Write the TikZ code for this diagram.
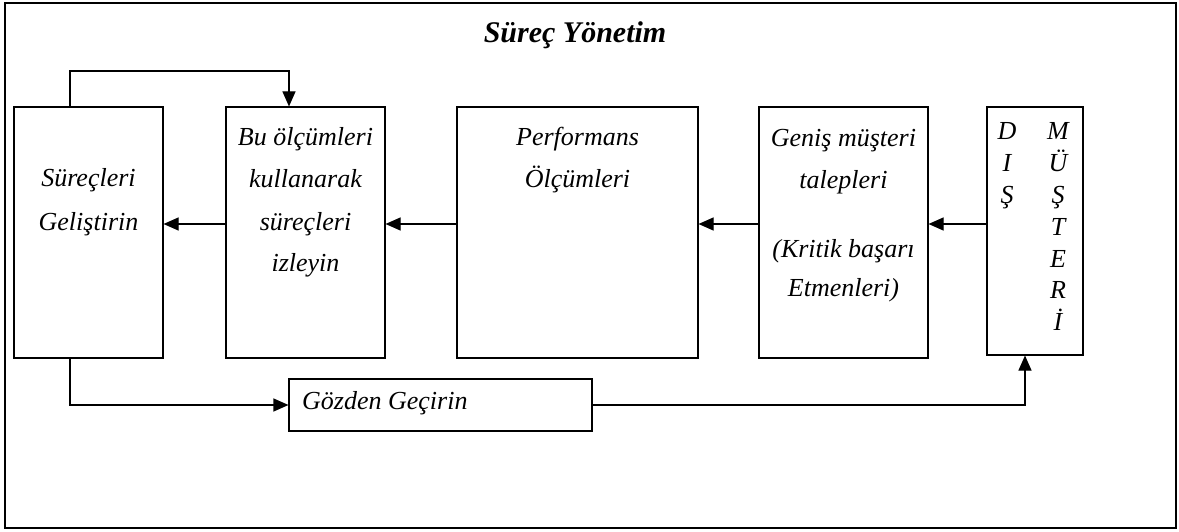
\documentclass[tikz,border=0pt]{standalone}
\usepackage{fontspec}
\setmainfont{Liberation Serif}
\usetikzlibrary{arrows.meta}

\begin{document}
\begin{tikzpicture}[x=1pt,y=-1pt,
  boxst/.style={draw,line width=1.1pt,inner sep=0pt,minimum width=#1},
  ln/.style={anchor=base,inner sep=0pt,font=\fontsize{26}{30}\selectfont\itshape},
  lnw/.style={anchor=base west,inner sep=0pt,font=\fontsize{26}{30}\selectfont\itshape},
  arr/.style={line width=1.1pt,-{Triangle[length=15pt,width=13pt]}}]
\useasboundingbox (0,0) rectangle (1179,532);

% outer frame
\node[draw,line width=1.4pt,minimum width=1171pt,minimum height=525pt,inner sep=0pt]
  (frame) at (590.5,265.5) {};
\node[anchor=base,inner sep=0pt,font=\fontsize{30}{34}\selectfont\bfseries\itshape]
  (title) at (575,43) {Süreç Yönetim};

% process boxes
\node[boxst=149pt,minimum height=251pt] (b1) at (88.5,232.5) {};
\node[boxst=159pt,minimum height=251pt] (b2) at (305.5,232.5) {};
\node[boxst=241pt,minimum height=251pt] (b3) at (577.5,232.5) {};
\node[boxst=169pt,minimum height=251pt] (b4) at (843.5,232.5) {};
\node[boxst=96pt,minimum height=248pt] (b5) at (1035,231) {};
\node[boxst=303pt,minimum height=52pt] (gz) at (440.5,405) {};

% box texts
\node[ln] (t1a) at (88.5,187) {Süreçleri};
\node[ln] (t1b) at (88.5,230) {Geliştirin};

\node[ln] (t2a) at (305.5,146) {Bu ölçümleri};
\node[ln] (t2b) at (305.5,188) {kullanarak};
\node[ln] (t2c) at (305.5,230) {süreçleri};
\node[ln] (t2d) at (305.5,271) {izleyin};

\node[ln] (t3a) at (577.5,146) {Performans};
\node[ln] (t3b) at (577.5,188) {Ölçümleri};

\node[ln] (t4a) at (843.5,147) {Geniş müşteri};
\node[ln] (t4b) at (843.5,189) {talepleri};
\node[ln] (t4c) at (843.5,258) {(Kritik başarı};
\node[ln] (t4d) at (843.5,296) {Etmenleri)};

\node[lnw] (tg) at (302,409) {Gözden Geçirin};

% vertical lettering
\foreach \c [count=\i] in {D,I,Ş}
  \node[ln] (d\i) at (1007,108+32*\i) {\c};
\foreach \c [count=\i] in {M,Ü,Ş,T,E,R,İ}
  \node[ln] (m\i) at (1058,108+31.8*\i) {\c};

% connectors
\coordinate (ay) at (0,224);
\coordinate (lt) at (70,71);
\coordinate (rt) at (289,71);
\draw[arr] (b2.west |- ay) -- (b1.east |- ay);
\draw[arr] (b3.west |- ay) -- (b2.east |- ay);
\draw[arr] (b4.west |- ay) -- (b3.east |- ay);
\draw[arr] (b5.west |- ay) -- (b4.east |- ay);
\draw[arr] (b1.north -| lt) |- (rt) -- (b2.north -| rt);
\draw[arr] (b1.south -| lt) |- (gz.west);
\draw[arr] (gz.east) -| ([xshift=-10pt]b5.south);
\end{tikzpicture}
\end{document}
